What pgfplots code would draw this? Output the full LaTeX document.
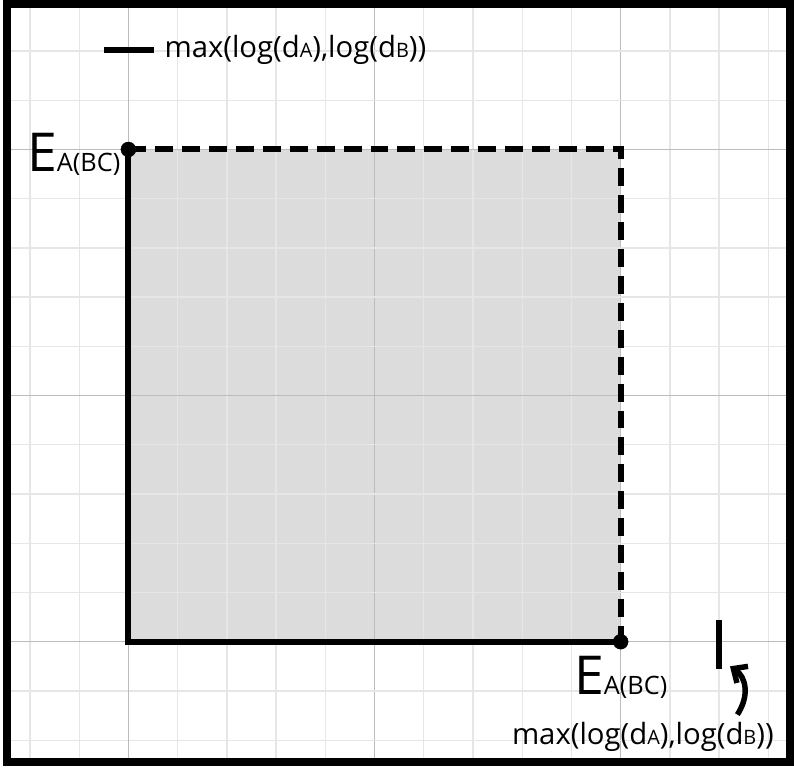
\documentclass[border=0pt]{standalone}
\usepackage{pgfplots}
\pgfplotsset{compat=1.18}
\usepackage{fontspec}
\setmainfont{Open Sans}
\usetikzlibrary{arrows.meta}

\definecolor{fillgray}{RGB}{220,220,220}
\definecolor{minorgrid}{RGB}{230,230,230}
\definecolor{majorgrid}{RGB}{188,188,188}
\definecolor{axisgray}{RGB}{105,105,105}

\newcommand{\lbl}{max(log(d{\fontsize{20}{20}\selectfont A}),log(d{\fontsize{20}{20}\selectfont B}))}
\newcommand{\eab}{{\fontsize{54}{54}\selectfont E}{\fontsize{25.5}{25.5}\selectfont A(BC)}}

\begin{document}
\begin{tikzpicture}
\begin{axis}[
    set layers,
    x=49.4bp, y=49.4bp,
    xmin=-2.47, xmax=13.44,
    ymin=-2.45, ymax=12.955,
    axis line style={line width=8bp, black},
    xtick={5,10}, ytick={5,10},
    minor xtick={-2,-1,...,13},
    minor ytick={-2,-1,...,12},
    extra x ticks={0}, extra y ticks={0},
    extra x tick style={grid style={axisgray, line width=1.3bp}},
    extra y tick style={grid style={axisgray, line width=1.3bp}},
    xticklabels={}, yticklabels={},
    extra x tick labels={}, extra y tick labels={},
    major tick length=0pt, minor tick length=0pt,
    grid=both,
    minor grid style={minorgrid, line width=1.3bp},
    major grid style={majorgrid, line width=1.3bp},
    clip=false,
]
% shaded square (under the grid)
\addplot[draw=none, fill=fillgray, on layer=axis background]
    coordinates {(0,0) (10,0) (10,10) (0,10)} \closedcycle;

% solid sides
\addplot[black, line width=6bp] coordinates {(0,10) (0,0) (10,0)};
% dashed sides
\addplot[black, line width=6bp, dash pattern=on 18bp off 9bp]
    coordinates {(0,10) (10,10) (10,0)};
% corner points
\addplot[only marks, mark=*, mark size=7.5bp, black]
    coordinates {(0,10) (10,0)};

% tick marks for max(log(dA),log(dB))
\addplot[black, line width=5.5bp] coordinates {(-0.5,12.02) (0.52,12.02)};
\addplot[black, line width=5.5bp] coordinates {(12.0,-0.55) (12.0,0.45)};

% labels
\node[anchor=base east, inner sep=0pt] at (axis cs:-0.16,9.55) {\eab};
\node[anchor=base, inner sep=0pt] at (axis cs:10.0,-1.07) {\eab};
\node[anchor=base west, inner sep=0pt, font=\fontsize{29.5}{29.5}\selectfont]
    at (axis cs:0.73,11.86) {\lbl};
\node[anchor=base, inner sep=0pt, font=\fontsize{29.5}{29.5}\selectfont]
    at (axis cs:10.45,-2.09) {\lbl};

% curved arrow
\draw[line width=5.5bp, -{Straight Barb[length=11bp, width=20bp]}]
    (axis cs:12.37,-1.48) .. controls (axis cs:12.62,-1.1) and (axis cs:12.55,-0.72) .. (axis cs:12.22,-0.5);

% full frame in the bounding box
\path (rel axis cs:0,0) ++(-4bp,-4bp);
\path (rel axis cs:1,1) ++(4bp,4bp);
\end{axis}
\end{tikzpicture}
\end{document}
